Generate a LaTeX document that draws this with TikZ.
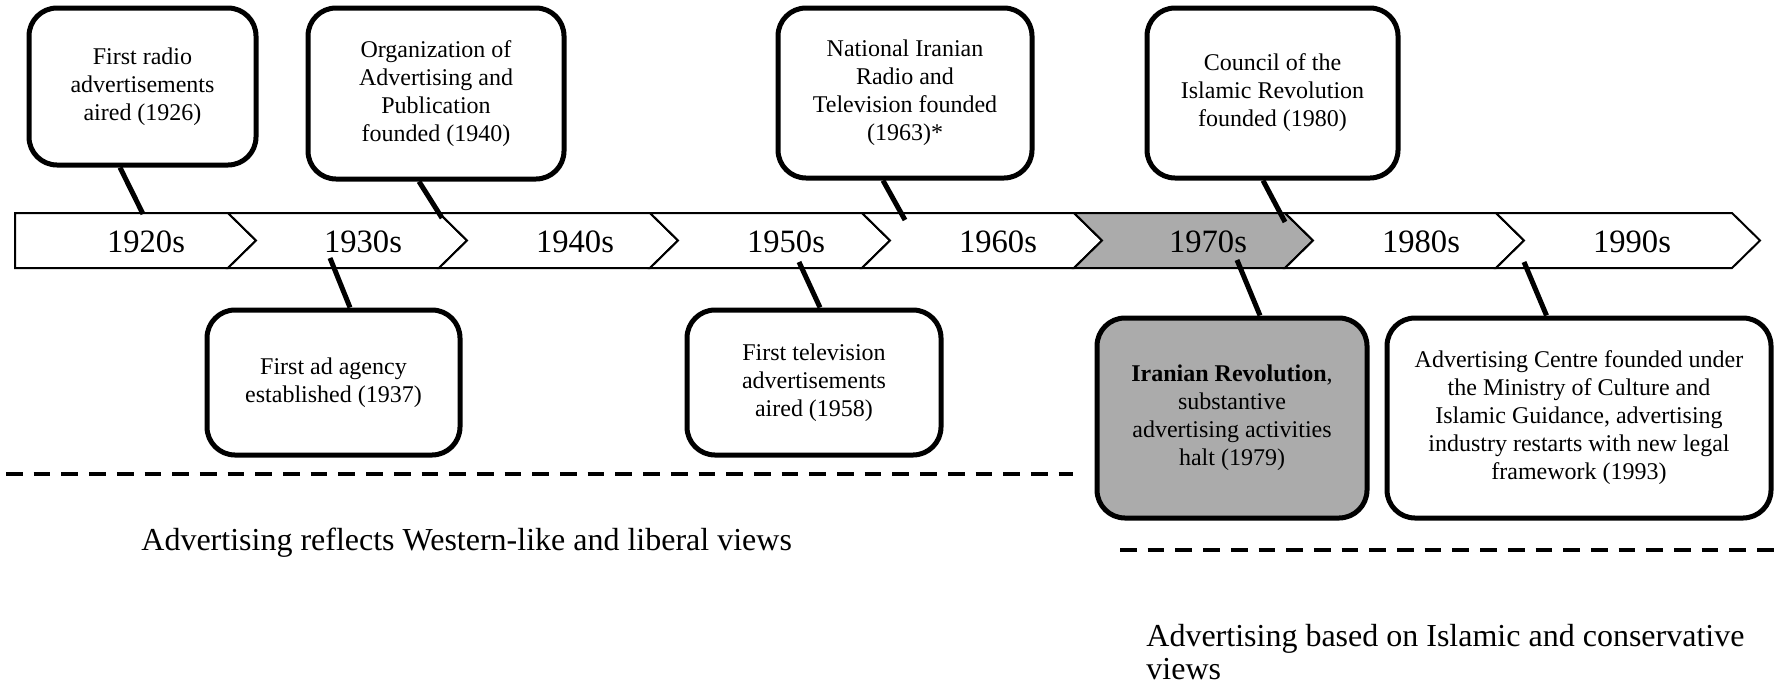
\documentclass[tikz,border=0pt]{standalone}
\usepackage{fontspec}
\setmainfont{Liberation Serif}
\definecolor{grayfill}{RGB}{171,171,171}
\begin{document}
\begin{tikzpicture}[x=0.5pt,y=-0.5pt,
  evbox/.style={draw=black, line width=2.5pt, rounded corners=14pt, fill=white, inner sep=0pt, align=center, font=\fontsize{12}{14}\selectfont},
  seg/.style={draw=black, line width=1pt, line join=miter},
  conn/.style={draw=black, line width=2.5pt},
  sepline/.style={draw=black, line width=2pt, dash pattern=on 8.35pt off 5.5pt},
  year/.style={font=\fontsize{16.3}{19}\selectfont, anchor=base, inner sep=0pt},
  era/.style={font=\fontsize{16}{19}\selectfont, anchor=base west, inner sep=0pt}]

\useasboundingbox (0,0) rectangle (1775,686);

% timeline bar
\draw[seg, fill=white] (15,213) -- (228,213) -- (256,240.5) -- (228,268) -- (15,268) -- cycle;
\foreach \a/\b/\f in {228/439/white, 439/650/white, 650/862/white, 862/1074/white, 1074/1285/grayfill, 1285/1496/white, 1496/1732/white}
  \draw[seg, fill=\f] (\a,213) -- (\b,213) -- ({\b+28},240.5) -- (\b,268) -- (\a,268) -- ({\a+28},240.5) -- cycle;

\node[year] (y1) at (146,252) {1920s};
\node[year] (y2) at (363,252) {1930s};
\node[year] (y3) at (575,252) {1940s};
\node[year] (y4) at (786,252) {1950s};
\node[year] (y5) at (998,252) {1960s};
\node[year] (y6) at (1208,252) {1970s};
\node[year] (y7) at (1421,252) {1980s};
\node[year] (y8) at (1632,252) {1990s};

% event boxes
\node[evbox, minimum width=113.5pt, minimum height=78.5pt] (b1) at (142.5,86.5) {First radio\\advertisements\\aired (1926)};
\node[evbox, minimum width=128pt, minimum height=85.5pt] (b2) at (436,93.5) {Organization of\\Advertising and\\Publication\\founded (1940)};
\node[evbox, minimum width=127pt, minimum height=85pt] (b3) at (905,93) {National Iranian\\Radio and\\Television founded\\(1963)*};
\node[evbox, minimum width=125.5pt, minimum height=85pt] (b4) at (1272.5,93) {Council of the\\Islamic Revolution\\founded (1980)};
\node[evbox, minimum width=126.5pt, minimum height=72.5pt] (b5) at (333.5,382.5) {First ad agency\\established (1937)};
\node[evbox, minimum width=127pt, minimum height=72.5pt] (b6) at (814,382.5) {First television\\advertisements\\aired (1958)};
\node[evbox, fill=grayfill, minimum width=135pt, minimum height=100pt] (b7) at (1232,418) {\textbf{Iranian Revolution},\\substantive\\advertising activities\\halt (1979)};
\node[evbox, minimum width=192pt, minimum height=100pt] (b8) at (1579,418) {Advertising Centre founded under\\the Ministry of Culture and\\Islamic Guidance, advertising\\industry restarts with new legal\\framework (1993)};

% connector end points on the bar
\coordinate (p1) at (143,214);
\coordinate (p2) at (442,218);
\coordinate (p3) at (905,220);
\coordinate (p4) at (1285,222);
\coordinate (p5) at (330,258);
\coordinate (p6) at (799,262);
\coordinate (p7) at (1237,260);
\coordinate (p8) at (1524,262);

\draw[conn] ([xshift=-11.25pt]b1.south) -- (p1);
\draw[conn] ([xshift=-8.5pt]b2.south) -- (p2);
\draw[conn] ([xshift=-11pt]b3.south) -- (p3);
\draw[conn] ([xshift=-4.75pt]b4.south) -- (p4);
\draw[conn] (p5) -- ([xshift=8.25pt]b5.north);
\draw[conn] (p6) -- ([xshift=3pt]b6.north);
\draw[conn] (p7) -- ([xshift=14pt]b7.north);
\draw[conn] (p8) -- ([xshift=-16.25pt]b8.north);

% era separators
\coordinate (d1a) at (6,474);
\coordinate (d1b) at (1073,474);
\coordinate (d2a) at (1120,550);
\coordinate (d2b) at (1775,550);
\draw[sepline] (d1a) -- (d1b);
\draw[sepline] (d2a) -- (d2b);

\node[era] (e1) at (141,550) {Advertising reflects Western-like and liberal views};
\node[era] (e2) at (1146,646) {Advertising based on Islamic and conservative};
\node[era] (e3) at (1146,679) {views};
\end{tikzpicture}
\end{document}
